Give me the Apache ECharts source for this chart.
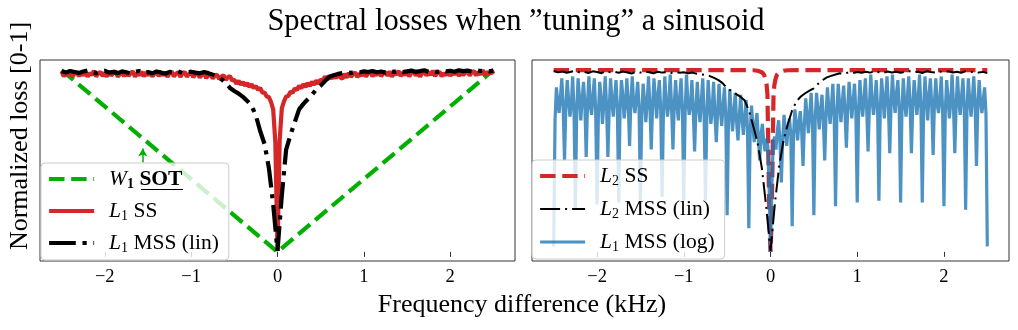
<!DOCTYPE html>
<html>
<head>
<meta charset="utf-8">
<script src="https://cdn.jsdelivr.net/npm/echarts@6/dist/echarts.min.js"></script>
<style>
  html, body { margin: 0; padding: 0; background: #fff; }
  #chart { width: 1018px; height: 330px; }
</style>
</head>
<body>
<div id="chart"></div>
<script>
// ---------------- data ----------------
const tickValues = [-2, -1, 0, 1, 2];
const tickLabels = ['−2', '−1', '0', '1', '2'];

// W1 optimal-transport loss: linear in the frequency offset
const sotX = [-2.5, 0, 2.5];
const sotY = [0.995, 0.0, 0.995];
// small annotation arrow next to the SOT curve
const arrowX = [-1.56, -1.56];
const arrowY = [0.49, 0.565];

// L1 single-scale spectral loss, every 0.025 kHz from -2.5 to 2.5
const l1ssStart = -2.5, l1ssStep = 0.025;
const l1ss = [
  0.987, 0.960, 0.981, 0.965, 0.992, 0.958, 0.977, 0.986, 0.961, 0.982,
  0.964, 0.989, 0.959, 0.979, 0.968, 0.991, 0.960, 0.976, 0.985, 0.962,
  0.981, 0.958, 0.988, 0.965, 0.978, 0.990, 0.959, 0.972, 0.987, 0.961,
  0.982, 0.963, 0.977, 0.989, 0.958, 0.979, 0.967, 0.986, 0.960, 0.983,
  0.965, 0.985, 0.959, 0.976, 0.988, 0.961, 0.980, 0.966, 0.984, 0.958,
  0.978, 0.987, 0.960, 0.975, 0.983, 0.957, 0.977, 0.985, 0.959, 0.973,
  0.982, 0.956, 0.972, 0.981, 0.954, 0.969, 0.978, 0.951, 0.967, 0.975,
  0.948, 0.965, 0.970, 0.945, 0.959, 0.967, 0.941, 0.956, 0.962, 0.938,
  0.942, 0.920, 0.936, 0.915, 0.930, 0.909, 0.924, 0.903, 0.917, 0.896,
  0.908, 0.887, 0.897, 0.872, 0.872, 0.850, 0.847, 0.820, 0.780, 0.600,
  0.005,
  0.610, 0.785, 0.824, 0.850, 0.853, 0.877, 0.870, 0.895, 0.886, 0.909,
  0.895, 0.918, 0.902, 0.925, 0.908, 0.931, 0.914, 0.938, 0.920, 0.943,
  0.937, 0.960, 0.942, 0.964, 0.947, 0.969, 0.950, 0.972, 0.955, 0.947,
  0.974, 0.953, 0.979, 0.958, 0.970, 0.983, 0.956, 0.976, 0.964, 0.985,
  0.959, 0.978, 0.987, 0.960, 0.981, 0.966, 0.990, 0.961, 0.976, 0.984,
  0.964, 0.988, 0.958, 0.980, 0.969, 0.991, 0.962, 0.982, 0.967, 0.986,
  0.960, 0.979, 0.990, 0.964, 0.983, 0.959, 0.977, 0.989, 0.965, 0.984,
  0.968, 0.992, 0.961, 0.981, 0.987, 0.960, 0.978, 0.966, 0.991, 0.963,
  0.983, 0.970, 0.993, 0.962, 0.985, 0.967, 0.980, 0.994, 0.964, 0.982,
  0.989, 0.965, 0.985, 0.970, 0.995, 0.966, 0.986, 0.974, 0.992, 0.973
];

// L1 multi-scale spectral loss (linear magnitudes), every 0.05 kHz
const l1mssStart = -2.5, l1mssStep = 0.05;
const l1mss = [
  0.988, 0.982, 0.990, 0.984, 0.979, 0.987, 0.992, 0.983, 0.978, 0.986,
  0.991, 0.981, 0.985, 0.978, 0.988, 0.983, 0.976, 0.986, 0.990, 0.980,
  0.984, 0.977, 0.987, 0.982, 0.975, 0.985, 0.980, 0.988, 0.979, 0.983,
  0.986, 0.981, 0.977, 0.984, 0.978, 0.970, 0.962, 0.945, 0.925, 0.897,
  0.880, 0.866, 0.848, 0.826, 0.800, 0.745, 0.660, 0.590, 0.460, 0.260,
  0.005,
  0.310, 0.560, 0.640, 0.710, 0.780, 0.810, 0.835, 0.860, 0.890, 0.910,
  0.935, 0.958, 0.966, 0.974, 0.978, 0.983, 0.979, 0.986, 0.982, 0.988,
  0.984, 0.990, 0.983, 0.987, 0.981, 0.989, 0.985, 0.991, 0.984, 0.988,
  0.992, 0.985, 0.989, 0.994, 0.986, 0.990, 0.984, 0.993, 0.988, 0.991,
  0.986, 0.994, 0.989, 0.992, 0.987, 0.995, 0.990, 0.993, 0.988, 0.992
];

// L2 single-scale spectral loss
const l2ssX = [-2.5, -1.5, -0.5, -0.2, -0.15, -0.1, -0.075, -0.06, -0.045, -0.035, -0.028, -0.018, -0.008, 0,
               0.008, 0.018, 0.028, 0.035, 0.045, 0.06, 0.075, 0.1, 0.15, 0.2, 0.5, 1.5, 2.5];
const l2ssY = [0.995, 0.995, 0.995, 0.994, 0.991, 0.983, 0.970, 0.950, 0.915, 0.860, 0.640, 0.330, 0.100, 0.000,
               0.100, 0.330, 0.640, 0.860, 0.915, 0.950, 0.970, 0.983, 0.991, 0.994, 0.995, 0.995, 0.995];

// L2 multi-scale spectral loss (linear magnitudes), every 0.05 kHz
const l2mssStart = -2.5, l2mssStep = 0.05;
const l2mss = [
  0.990, 0.983, 0.987, 0.980, 0.986, 0.991, 0.982, 0.985, 0.979, 0.988,
  0.984, 0.978, 0.989, 0.983, 0.986, 0.980, 0.987, 0.982, 0.976, 0.985,
  0.981, 0.988, 0.983, 0.977, 0.986, 0.981, 0.984, 0.979, 0.985, 0.980,
  0.983, 0.978, 0.981, 0.975, 0.972, 0.968, 0.962, 0.952, 0.940, 0.922,
  0.895, 0.880, 0.865, 0.850, 0.830, 0.775, 0.690, 0.600, 0.460, 0.250,
  0.005,
  0.260, 0.470, 0.610, 0.700, 0.775, 0.825, 0.850, 0.868, 0.882, 0.895,
  0.920, 0.940, 0.955, 0.963, 0.971, 0.977, 0.975, 0.982, 0.979, 0.984,
  0.980, 0.986, 0.981, 0.988, 0.983, 0.979, 0.987, 0.982, 0.986, 0.980,
  0.985, 0.989, 0.982, 0.986, 0.979, 0.988, 0.984, 0.981, 0.987, 0.983,
  0.988, 0.982, 0.986, 0.980, 0.989, 0.984, 0.987, 0.981, 0.985, 0.978
];

// L1 multi-scale spectral loss on log magnitudes, every 1/64 kHz;
// each row spans one 0.125 kHz period starting at its notch
const l1logStart = -2.5, l1logStep = 1 / 64;
const l1log = [
  0.03, 0.72, 0.90, 0.82, 0.76, 0.85, 0.95, 0.79,
  0.50, 0.80, 0.94, 0.83, 0.74, 0.80, 0.96, 0.78,
  0.24, 0.77, 0.95, 0.85, 0.72, 0.83, 0.93, 0.81,
  0.52, 0.82, 0.96, 0.80, 0.75, 0.86, 0.95, 0.77,
  0.26, 0.76, 0.93, 0.84, 0.70, 0.81, 0.96, 0.80,
  0.52, 0.79, 0.95, 0.82, 0.74, 0.85, 0.94, 0.78,
  0.27, 0.78, 0.94, 0.86, 0.73, 0.80, 0.95, 0.82,
  0.58, 0.83, 0.96, 0.81, 0.76, 0.84, 0.93, 0.79,
  0.28, 0.75, 0.92, 0.83, 0.71, 0.82, 0.96, 0.80,
  0.56, 0.80, 0.95, 0.84, 0.73, 0.86, 0.94, 0.77,
  0.30, 0.77, 0.96, 0.82, 0.74, 0.81, 0.97, 0.79,
  0.56, 0.81, 0.94, 0.80, 0.72, 0.85, 0.95, 0.78,
  0.28, 0.76, 0.97, 0.83, 0.75, 0.80, 0.94, 0.77,
  0.55, 0.79, 0.93, 0.79, 0.71, 0.83, 0.95, 0.76,
  0.28, 0.74, 0.94, 0.81, 0.70, 0.78, 0.93, 0.75,
  0.60, 0.77, 0.92, 0.78, 0.69, 0.80, 0.90, 0.74,
  0.20, 0.72, 0.89, 0.76, 0.66, 0.77, 0.87, 0.71,
  0.61, 0.74, 0.86, 0.73, 0.64, 0.74, 0.83, 0.68,
  0.13, 0.65, 0.80, 0.69, 0.60, 0.70, 0.76, 0.63,
  0.50, 0.64, 0.70, 0.60, 0.55, 0.62, 0.58, 0.35,
  0.00, 0.36, 0.60, 0.63, 0.56, 0.66, 0.72, 0.60,
  0.38, 0.62, 0.75, 0.66, 0.58, 0.68, 0.73, 0.64,
  0.14, 0.64, 0.78, 0.70, 0.61, 0.71, 0.77, 0.66,
  0.47, 0.70, 0.84, 0.74, 0.65, 0.76, 0.87, 0.70,
  0.20, 0.73, 0.87, 0.77, 0.67, 0.78, 0.86, 0.72,
  0.50, 0.75, 0.90, 0.79, 0.70, 0.80, 0.92, 0.74,
  0.25, 0.76, 0.92, 0.80, 0.71, 0.82, 0.91, 0.76,
  0.57, 0.79, 0.93, 0.82, 0.73, 0.83, 0.92, 0.77,
  0.27, 0.77, 0.94, 0.81, 0.74, 0.84, 0.95, 0.78,
  0.55, 0.80, 0.97, 0.83, 0.75, 0.82, 0.94, 0.79,
  0.28, 0.78, 0.95, 0.84, 0.73, 0.85, 0.96, 0.80,
  0.54, 0.81, 0.97, 0.83, 0.76, 0.87, 0.94, 0.78,
  0.27, 0.77, 0.95, 0.82, 0.74, 0.84, 0.96, 0.81,
  0.54, 0.80, 0.94, 0.85, 0.75, 0.83, 0.97, 0.79,
  0.27, 0.78, 0.96, 0.83, 0.72, 0.86, 0.95, 0.80,
  0.53, 0.82, 0.95, 0.81, 0.76, 0.84, 0.96, 0.78,
  0.25, 0.77, 0.94, 0.84, 0.73, 0.82, 0.97, 0.81,
  0.54, 0.80, 0.96, 0.82, 0.75, 0.85, 0.95, 0.79,
  0.23, 0.78, 0.95, 0.83, 0.74, 0.84, 0.96, 0.80,
  0.47, 0.81, 0.94, 0.82, 0.76, 0.83, 0.90, 0.76,
  0.03
];

// ---------------- helpers ----------------
const onGrid = (start, step, ys) => ys.map((v, i) => [start + i * step, v]);
const zipXY = (xs, ys) => xs.map((x, i) => [x, ys[i]]);

const SERIF = 'Liberation Serif';
const GREEN = '#00b000';
const RED = '#d62728';
const BLUE = '#1f77b4';
const FS = 21.5;   // legend font size
const LH = 22;     // legend line height

const legendRich = {
  sp: { width: 10 },
  t:  { fontFamily: SERIF, fontSize: FS, lineHeight: LH, color: '#000' },
  i:  { fontFamily: SERIF, fontSize: FS, fontStyle: 'italic', lineHeight: LH, color: '#000' },
  s:  { fontFamily: SERIF, fontSize: 14, lineHeight: LH, padding: [10, 0, 0, 0], color: '#000' },
  sb: { fontFamily: SERIF, fontSize: 14, fontWeight: 'bold', lineHeight: LH, padding: [10, 0, 0, 0], color: '#000' },
  b:  { fontFamily: SERIF, fontSize: FS, fontWeight: 'bold', lineHeight: LH, color: '#000' }
};
const legendText = {
  'W1 SOT': '{sp| }{i|W}{sb|1}{t| }{b|SOT}',
  'L1 SS': '{sp| }{i|L}{s|1}{t| SS}',
  'L1 MSS (lin)': '{sp| }{i|L}{s|1}{t| MSS (lin)}',
  'L2 SS': '{sp| }{i|L}{s|2}{t| SS}',
  'L2 MSS (lin)': '{sp| }{i|L}{s|2}{t| MSS (lin)}',
  'L1 MSS (log)': '{sp| }{i|L}{s|1}{t| MSS (log)}'
};

function makeLegend(names, left, top, gap) {
  return {
    data: names,
    orient: 'vertical',
    left: left,
    top: top,
    padding: [4, 10, 5, 6],
    itemGap: gap,
    itemWidth: 45,
    itemHeight: 14,
    backgroundColor: 'rgba(255,255,255,0.8)',
    borderColor: '#cccccc',
    borderWidth: 1,
    borderRadius: 4,
    selectedMode: false,
    lineStyle: { width: 'inherit' },
    itemStyle: { opacity: 0 },
    formatter: (name) => legendText[name],
    textStyle: { rich: legendRich }
  };
}

function makeX(gridIndex) {
  return {
    type: 'value', gridIndex: gridIndex, min: -2.75, max: 2.75,
    axisLine: { show: false },
    splitLine: { show: false },
    axisTick: { show: true, inside: false, length: 5, customValues: tickValues,
                lineStyle: { color: '#333', width: 1 } },
    axisLabel: { show: true, customValues: tickValues, margin: 7,
                 fontFamily: SERIF, fontSize: 18.5, color: '#000',
                 formatter: (v) => tickLabels[tickValues.indexOf(v)] }
  };
}
function makeY(gridIndex) {
  return {
    type: 'value', gridIndex: gridIndex, min: -0.05, max: 1.05,
    axisLine: { show: false }, axisTick: { show: false },
    axisLabel: { show: false }, splitLine: { show: false }
  };
}

const chart = echarts.init(document.getElementById('chart'), null, { renderer: 'canvas' });

chart.setOption({
  animation: false,
  backgroundColor: '#fff',
  grid: [
    { left: 40, top: 60, width: 475, height: 201, show: true, borderColor: '#333', borderWidth: 1, backgroundColor: 'transparent' },
    { left: 532, top: 60, width: 477, height: 201, show: true, borderColor: '#333', borderWidth: 1, backgroundColor: 'transparent' }
  ],
  xAxis: [makeX(0), makeX(1)],
  yAxis: [makeY(0), makeY(1)],
  legend: [
    makeLegend(['W1 SOT', 'L1 SS', 'L1 MSS (lin)'], 41, 163, 8),
    makeLegend(['L2 SS', 'L2 MSS (lin)', 'L1 MSS (log)'], 532, 160, 9)
  ],
  series: [
    {
      name: 'W1 SOT', type: 'line', xAxisIndex: 0, yAxisIndex: 0,
      data: zipXY(sotX, sotY), symbol: 'none', color: GREEN,
      lineStyle: { color: GREEN, width: 4.2, type: [15.4, 6.7] },
      markLine: {
        silent: true, symbol: ['none', 'arrow'], symbolSize: [7, 8],
        label: { show: false },
        lineStyle: { color: GREEN, width: 1.5, type: 'solid' },
        data: [[{ coord: [arrowX[0], arrowY[0]] }, { coord: [arrowX[1], arrowY[1]] }]]
      }
    },
    {
      name: 'L1 SS', type: 'line', xAxisIndex: 0, yAxisIndex: 0,
      data: onGrid(l1ssStart, l1ssStep, l1ss), symbol: 'none', color: RED,
      lineStyle: { color: RED, width: 4.2 }
    },
    {
      name: 'L1 MSS (lin)', type: 'line', xAxisIndex: 0, yAxisIndex: 0,
      data: onGrid(l1mssStart, l1mssStep, l1mss), symbol: 'none', color: '#000',
      lineStyle: { color: '#000', width: 4.2, type: [26.7, 6.7, 4.2, 6.7] }
    },
    {
      name: 'L2 SS', type: 'line', xAxisIndex: 1, yAxisIndex: 1,
      data: zipXY(l2ssX, l2ssY), symbol: 'none', color: RED,
      lineStyle: { color: RED, width: 4.2, type: [15.4, 6.7] }
    },
    {
      name: 'L1 MSS (log)', type: 'line', xAxisIndex: 1, yAxisIndex: 1,
      data: onGrid(l1logStart, l1logStep, l1log), symbol: 'none', color: BLUE,
      lineStyle: { color: BLUE, width: 3.2, opacity: 0.8 }
    },
    {
      // drawn last so the thin dash-dot stays visible above the blue curve
      name: 'L2 MSS (lin)', type: 'line', xAxisIndex: 1, yAxisIndex: 1,
      data: onGrid(l2mssStart, l2mssStep, l2mss), symbol: 'none', color: '#000',
      lineStyle: { color: '#000', width: 2, type: [20, 5, 2, 5] }
    }
  ],
  graphic: [
    {
      type: 'text', x: 516, y: 22, z: 100,
      style: { text: 'Spectral losses when ”tuning” a sinusoid', align: 'center', verticalAlign: 'middle',
               fontFamily: SERIF, fontSize: 30.5, fill: '#000' }
    },
    {
      type: 'text', x: 522, y: 305, z: 100,
      style: { text: 'Frequency difference (kHz)', align: 'center', verticalAlign: 'middle',
               fontFamily: SERIF, fontSize: 26, fill: '#000' }
    },
    {
      type: 'text', x: 20, y: 136, rotation: Math.PI / 2, z: 100,
      style: { text: 'Normalized loss [0-1]', align: 'center', verticalAlign: 'middle',
               fontFamily: SERIF, fontSize: 26, fill: '#000' }
    },
    {
      // underline of the bold "SOT" legend entry
      type: 'line', z: 100,
      shape: { x1: 141, y1: 189.5, x2: 183, y2: 189.5 },
      style: { stroke: '#000', lineWidth: 1.2 }
    }
  ]
});
</script>
</body>
</html>
